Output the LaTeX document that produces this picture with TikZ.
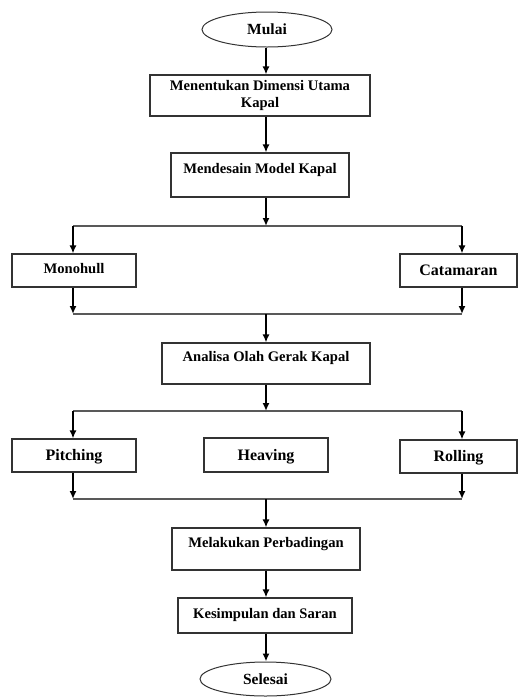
\documentclass[tikz,border=0pt]{standalone}
\usepackage{fontspec}
\setmainfont{Liberation Serif}
\usetikzlibrary{shapes.geometric,arrows.meta}
\tikzset{
  box/.style={draw=black!80, line width=1.1pt, rectangle, inner sep=0pt, align=center,
    font=\fontsize{14.6}{16.5}\selectfont\bfseries},
  bigbox/.style={box, font=\fontsize{16}{18}\selectfont\bfseries},
  term/.style={draw=black!80, line width=1pt, ellipse, inner sep=0pt,
    font=\fontsize{15.5}{18}\selectfont\bfseries, text height=12pt, text depth=2pt},
  txtmid/.style={text height=12pt, text depth=2pt},
  txtsl/.style={text height=10pt, text depth=5pt},
  txtup/.style={text height=10pt, text depth=14pt},
  arr/.style={-{Latex[length=8pt,width=7pt]}, line width=1.6pt, draw=black},
  hline/.style={line width=1.8pt, draw=black!65}
}
\begin{document}
\begin{tikzpicture}[x=1pt,y=-1pt]
\useasboundingbox (0,0) rectangle (518,697);
% nodes
\node[term, minimum width=130pt, minimum height=35pt] (mulai) at (267,29.5) {Mulai};
\node[box, minimum width=220pt, minimum height=41pt] (box1) at (260,95.5) {Menentukan Dimensi Utama\\Kapal};
\node[box, txtup, minimum width=178pt, minimum height=44pt] (box2) at (260,175) {Mendesain Model Kapal};
\node[box, txtsl, minimum width=124pt, minimum height=33pt] (mono) at (74,270.5) {Monohull};
\node[bigbox, txtmid, minimum width=117pt, minimum height=33pt] (cata) at (458.5,270.5) {Catamaran};
\node[box, txtup, minimum width=208pt, minimum height=41pt] (analisa) at (266,363.5) {Analisa Olah Gerak Kapal};
\node[bigbox, txtmid, minimum width=124pt, minimum height=33pt] (pitch) at (74,455.5) {Pitching};
\node[bigbox, txtmid, minimum width=124pt, minimum height=34pt] (heav) at (266,455) {Heaving};
\node[bigbox, txtmid, minimum width=117pt, minimum height=33pt] (roll) at (458.5,456.5) {Rolling};
\node[box, txtup, minimum width=188pt, minimum height=42pt] (melak) at (266,549) {Melakukan Perbadingan};
\node[box, txtsl, minimum width=174pt, minimum height=35pt] (kesim) at (265,615.5) {Kesimpulan dan Saran};
\node[term, minimum width=131pt, minimum height=34pt] (selesai) at (265.5,679) {Selesai};
% junction coordinates
\coordinate (j1) at (266,226);
\coordinate (jL1) at (73,226);
\coordinate (jR1) at (462,226);
\coordinate (k1) at (73,314);
\coordinate (kM1) at (266,314);
\coordinate (kR1) at (462,314);
\coordinate (j2) at (266,411);
\coordinate (jL2) at (73,411);
\coordinate (jR2) at (462,411);
\coordinate (k2) at (73,499);
\coordinate (kM2) at (266,499);
\coordinate (kR2) at (462,499);
% horizontal lines
\draw[hline] (jL1) -- (jR1);
\draw[hline] (k1) -- (kR1);
\draw[hline] (jL2) -- (jR2);
\draw[hline] (k2) -- (kR2);
% arrows
\draw[arr] (mulai.south -| j1) -- (box1.north -| j1);
\draw[arr] (box1.south -| j1) -- (box2.north -| j1);
\draw[arr] (box2.south -| j1) -- (j1);
\draw[arr] (jL1) -- (mono.north -| jL1);
\draw[arr] (jR1) -- (cata.north -| jR1);
\draw[arr] (mono.south -| k1) -- (k1);
\draw[arr] (cata.south -| kR1) -- (kR1);
\draw[arr] (kM1) -- (analisa.north -| kM1);
\draw[arr] (analisa.south -| j2) -- (j2);
\draw[arr] (jL2) -- (pitch.north -| jL2);
\draw[arr] (jR2) -- (roll.north -| jR2);
\draw[arr] (pitch.south -| k2) -- (k2);
\draw[arr] (roll.south -| kR2) -- (kR2);
\draw[arr] (kM2) -- (melak.north -| kM2);
\draw[arr] (melak.south -| kM2) -- (kesim.north -| kM2);
\draw[arr] (kesim.south -| kM2) -- (selesai.north -| kM2);
\end{tikzpicture}
\end{document}
